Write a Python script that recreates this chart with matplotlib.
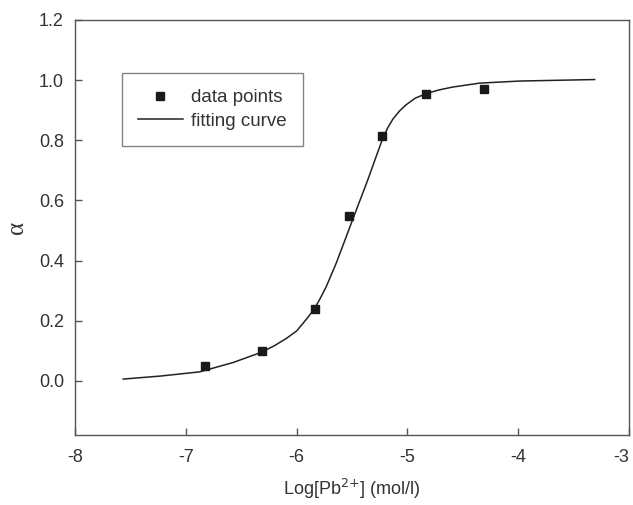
import matplotlib
matplotlib.use('Agg')
import matplotlib.pyplot as plt

# measured points
data_x = [-6.83, -6.31, -5.83, -5.53, -5.23, -4.835, -4.31]
data_y = [0.05, 0.10, 0.238, 0.549, 0.813, 0.955, 0.972]

# fitting curve
fit_x = [-7.565, -7.23, -6.874, -6.574, -6.318, -6.2, -6.093, -6.0, -5.943,
         -5.89, -5.838, -5.79, -5.733, -5.643, -5.568, -5.523, -5.448,
         -5.357, -5.283, -5.229, -5.18, -5.132, -5.07, -5.012, -4.93,
         -4.832, -4.72, -4.592, -4.35, -3.99, -3.31]
fit_y = [0.006, 0.016, 0.030, 0.061, 0.095, 0.117, 0.141, 0.166, 0.191,
         0.215, 0.241, 0.272, 0.313, 0.391, 0.464, 0.508, 0.581,
         0.669, 0.745, 0.800, 0.840, 0.870, 0.898, 0.918, 0.940,
         0.955, 0.967, 0.977, 0.99, 0.997, 1.002]

x_ticks = [-8, -7, -6, -5, -4, -3]
y_ticks = [0.0, 0.2, 0.4, 0.6, 0.8, 1.0, 1.2]

plt.rcParams['font.family'] = ['Liberation Sans', 'DejaVu Sans']

fig = plt.figure(figsize=(6.33, 5.05), dpi=100)
ax = fig.add_axes([0.1185, 0.1386, 0.8752, 0.8218])

ax.plot(fit_x, fit_y, color='#222222', lw=1.1, label='fitting curve')
ax.plot(data_x, data_y, 's', color='#1a1a1a', ms=6, label='data points')

ax.set_xlim(-8, -3)
ax.set_ylim(-0.18, 1.2)
ax.set_xticks(x_ticks)
ax.set_yticks(y_ticks)
ax.set_xticklabels([str(t) for t in x_ticks])
ax.set_yticklabels(['%.1f' % t for t in y_ticks])

for side in ['left', 'bottom', 'right', 'top']:
    ax.spines[side].set_color('#555555')
    ax.spines[side].set_linewidth(1.0)
ax.tick_params(direction='in', length=5, width=1, color='#555555',
               labelsize=13, labelcolor='#333333', pad=8)
ax.tick_params(axis='x', pad=10)
# last label sits flush with the right edge, as in the original
ax.get_xticklabels()[-1].set_horizontalalignment('right')

ax.set_xlabel('Log[Pb$^{2{+}}$] (mol/l)', fontsize=13, color='#333333',
              labelpad=8)
ax.set_ylabel('α', fontsize=18, color='#333333', labelpad=8,
              family=['Liberation Serif', 'DejaVu Serif'])

handles, labels = ax.get_legend_handles_labels()
leg = ax.legend(handles[::-1], labels[::-1], loc='upper left',
                bbox_to_anchor=(0.0848, 0.872), borderaxespad=0,
                fontsize=13.5, frameon=True, fancybox=False,
                handlelength=2.4, handletextpad=0.45, borderpad=0.85,
                labelspacing=0.35)
leg.get_frame().set_edgecolor('#666666')
leg.get_frame().set_linewidth(1.0)
for t in leg.get_texts():
    t.set_color('#333333')

fig.savefig('out.png', dpi=100)
